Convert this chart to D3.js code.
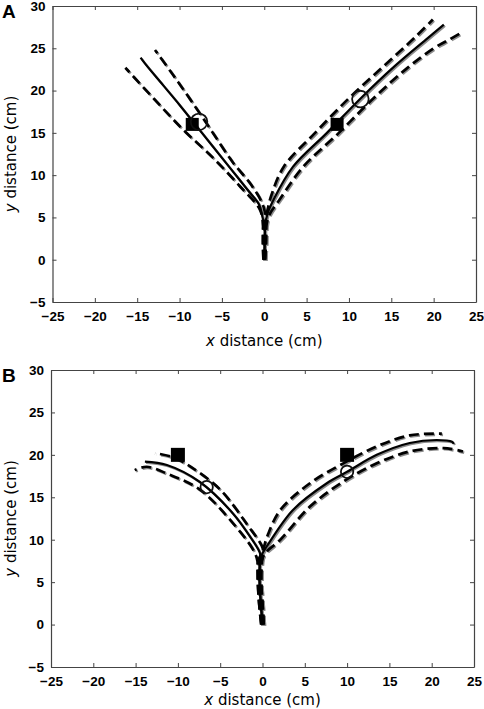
<!DOCTYPE html>
<html><head><meta charset="utf-8">
<script src="https://cdn.jsdelivr.net/npm/d3@7"></script>
<style>body{margin:0;background:#fff}svg{display:block}</style>
</head><body><svg id="c" width="484" height="709"></svg>
<script>
const xTicks = [-25,-20,-15,-10,-5,0,5,10,15,20,25];
const yTicks = [-5,0,5,10,15,20,25,30];
const xTitle = "distance (cm)";
const yTitle = "distance (cm)";

// Panel A
const aLeftMean  = [[0,0],[0.05,2],[0.05,4],[-0.2,5],[-0.6,6.5],[-2,8.3],[-4,10.8],[-6,13.3],[-8,15.8],[-10,18.3],[-12,20.7],[-14,23.1],[-14.6,23.9]];
const aLeftLow   = [[-0.1,0],[-0.15,2],[-0.15,4],[-0.5,5.9],[-2.8,8.6],[-6,12],[-9.6,15.4],[-13,19],[-16.4,22.7]];
const aLeftHigh  = [[0.1,0],[0.2,2],[0.2,4],[-0.1,6.3],[-1.5,8.8],[-3.7,11.5],[-6.2,15.2],[-8.7,18.9],[-10.8,21.9],[-12.9,24.8]];
const aRightMean = [[0,0],[0.05,2],[0.1,4],[0.4,5.5],[1.1,7.1],[3.4,11],[7.4,15],[11.4,19.1],[15.3,22.8],[19.3,26.2],[21.2,27.8]];
const aRightHigh = [[-0.1,0],[-0.15,2],[-0.1,4],[0.3,5.5],[0.8,7.5],[2.3,11],[6,15],[10,19.1],[14,22.8],[17.8,26.3],[19.9,28.4]];
const aRightLow  = [[0.1,0],[0.2,2],[0.25,4],[0.6,5.3],[1.8,7.1],[4.6,11],[8.8,15],[12.9,19.1],[16.8,22.6],[20,25],[21.6,25.9],[23.2,26.8]];
const aSquares = [[-8.5,16],[8.6,16]];
const aCircles = [[-7.7,16.3],[11.35,19.0]];

// Panel B
const bLeftMean  = [[0,0],[-0.2,2.5],[-0.35,5],[-0.3,7.5],[-0.3,8.4],[-1.5,10.4],[-3.5,13.1],[-7.4,16.8],[-11.3,18.8],[-13.9,19.2]];
const bLeftLow   = [[-0.15,0],[-0.4,2.5],[-0.55,5],[-0.6,7.5],[-1.1,8.8],[-3.45,11.9],[-7.4,15.9],[-11.3,17.8],[-13.7,18.6],[-15.1,18.2]];
const bLeftHigh  = [[0.15,0],[0,2.5],[-0.15,5],[-0.05,7.5],[0.1,8.8],[-1.9,11.9],[-5,15.9],[-8.2,18.4],[-10.5,19.7],[-12.7,20.2]];
const bRightMean = [[0,0],[-0.2,2.5],[-0.35,5],[-0.3,7.5],[0,8.4],[0.5,9.2],[3.6,13.5],[7.6,16.65],[10,18],[13.5,20],[17.4,21.4],[20.6,21.75],[22.4,21.55],[22.6,21.3]];
const bRightHigh = [[-0.15,0],[-0.4,2.5],[-0.55,5],[-0.5,7.5],[0,8.6],[0.6,10.5],[2.1,13.5],[5.6,16.65],[9.55,19],[13.5,21],[17.4,22.3],[21.2,22.5]];
const bRightLow  = [[0.15,0],[0,2.5],[-0.15,5],[-0.1,7.5],[0.3,8.4],[2.1,10],[5.6,13.9],[9.55,16.85],[13.5,19],[17.4,20.4],[21.4,20.8],[23.7,20.4]];
const bSquares = [[-10,20],[10,20]];
const bCircles = [[-6.6,16.2],[10,18]];

const panels = [
  {label:"A", box:{l:52.5,r:476,t:6,b:302}, mean:[aLeftMean,aRightMean], sd:[aLeftLow,aLeftHigh,aRightHigh,aRightLow], sq:aSquares, ci:aCircles, sqSize:13, cr:8.3, xTitleY:346},
  {label:"B", box:{l:51,r:474,t:370,b:667}, mean:[bLeftMean,bRightMean], sd:[bLeftLow,bLeftHigh,bRightHigh,bRightLow], sq:bSquares, ci:bCircles, sqSize:14, cr:6.2, xTitleY:705}
];

const svg = d3.select("#c");
const tickFont = "'Liberation Sans', Arial, Helvetica, sans-serif";
const titleFont = "'DejaVu Sans', Verdana, sans-serif";

panels.forEach(p => {
  const x = d3.scaleLinear().domain([xTicks[0], xTicks[xTicks.length-1]]).range([p.box.l, p.box.r]);
  const y = d3.scaleLinear().domain([yTicks[0], yTicks[yTicks.length-1]]).range([p.box.b, p.box.t]);
  const g = svg.append("g");

  const styleAxis = sel => {
    sel.selectAll(".domain").attr("stroke","#444").attr("stroke-width",1.2);
    sel.selectAll(".tick line").attr("stroke","#444");
    sel.selectAll(".tick text").attr("font-family",tickFont).attr("font-weight","bold").attr("font-size",13.5).attr("fill","#000");
  };
  g.append("g").attr("transform",`translate(0,${p.box.b})`)
    .call(d3.axisBottom(x).tickValues(xTicks).tickSizeInner(-4).tickSizeOuter(0).tickPadding(9)).call(styleAxis);
  g.append("g").attr("transform",`translate(0,${p.box.t})`)
    .call(d3.axisTop(x).tickValues(xTicks).tickSizeInner(-4).tickSizeOuter(0).tickFormat("")).call(styleAxis);
  g.append("g").attr("transform",`translate(${p.box.l},0)`)
    .call(d3.axisLeft(y).tickValues(yTicks).tickSizeInner(-4).tickSizeOuter(0).tickPadding(7)).call(styleAxis);
  g.append("g").attr("transform",`translate(${p.box.r},0)`)
    .call(d3.axisRight(y).tickValues(yTicks).tickSizeInner(-4).tickSizeOuter(0).tickFormat("")).call(styleAxis);

  const xt = g.append("text").attr("x",(p.box.l+p.box.r)/2).attr("y",p.xTitleY).attr("text-anchor","middle")
    .attr("font-family",titleFont).attr("font-size",15).attr("fill","#000");
  xt.append("tspan").attr("font-style","italic").text("x");
  xt.append("tspan").text(" " + xTitle);
  const ty = (p.box.t+p.box.b)/2;
  const yt = g.append("text").attr("transform",`translate(16,${ty}) rotate(-90)`).attr("text-anchor","middle")
    .attr("font-family",titleFont).attr("font-size",15).attr("fill","#000");
  yt.append("tspan").attr("font-style","italic").text("y");
  yt.append("tspan").text(" " + yTitle);

  g.append("text").attr("x",2).attr("y",p.box.t+12).attr("font-family",tickFont).attr("font-weight","bold")
    .attr("font-size",19).text(p.label);

  const line = d3.line().x(d=>x(d[0])).y(d=>y(d[1])).curve(d3.curveCatmullRom.alpha(0.5));
  const plot = g.append("g");
  const sh = plot.append("g").attr("transform","translate(1.2,1.2)");
  sh.selectAll("path.sd").data(p.sd).join("path").attr("d",line).attr("fill","none")
    .attr("stroke","#8c8c8c").attr("stroke-width",2.6).attr("stroke-dasharray","10,5");
  sh.selectAll("path.mn").data(p.mean).join("path").attr("d",line).attr("fill","none")
    .attr("stroke","#8c8c8c").attr("stroke-width",2.2);
  plot.append("g").selectAll("path").data(p.sd).join("path").attr("d",line).attr("fill","none")
    .attr("stroke","#000").attr("stroke-width",2.7).attr("stroke-dasharray","10,5");
  plot.append("g").selectAll("path").data(p.mean).join("path").attr("d",line).attr("fill","none")
    .attr("stroke","#000").attr("stroke-width",2.2);

  plot.append("g").selectAll("rect").data(p.sq).join("rect")
    .attr("x",d=>x(d[0])-p.sqSize/2).attr("y",d=>y(d[1])-p.sqSize/2)
    .attr("width",p.sqSize).attr("height",p.sqSize).attr("fill","#000");
  plot.append("g").selectAll("circle").data(p.ci).join("circle")
    .attr("cx",d=>x(d[0])).attr("cy",d=>y(d[1])).attr("r",p.cr)
    .attr("fill","none").attr("stroke","#111").attr("stroke-width",1.8);
});
</script>
</body></html>
